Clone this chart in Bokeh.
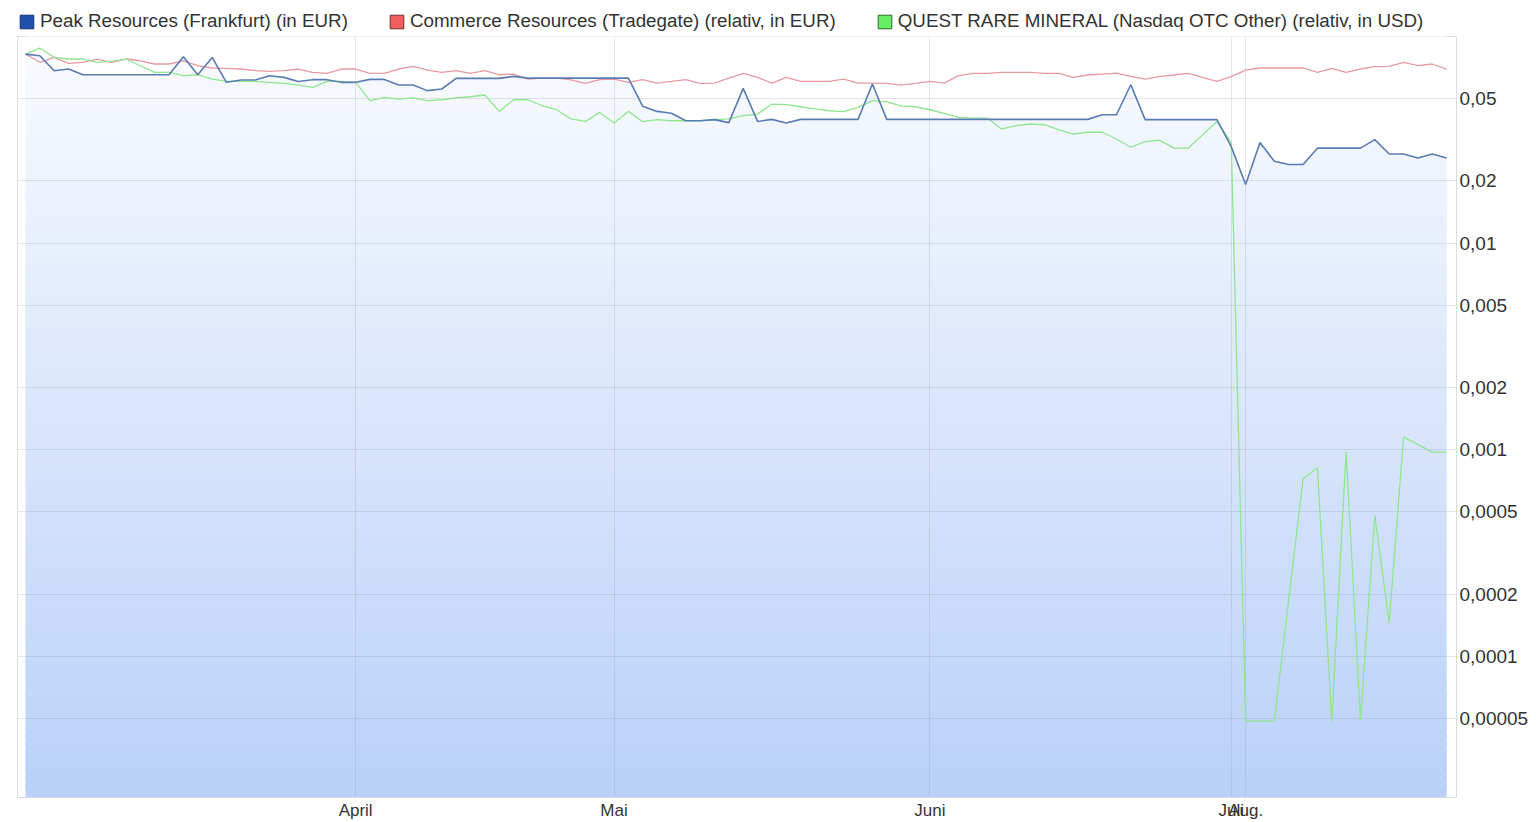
import numpy as np
from bokeh.plotting import figure
from bokeh.layouts import column
from bokeh.models import FixedTicker, Legend, LegendItem, Range1d, ColumnDataSource
from bokeh.embed import file_html
from bokeh.resources import INLINE

# ---------------- data ----------------
month_ticks = [23, 41, 63, 84, 85]
month_labels = ["April", "Mai", "Juni", "Juli", "Aug."]

y_ticks = [0.05, 0.02, 0.01, 0.005, 0.002, 0.001, 0.0005, 0.0002, 0.0001, 0.00005]
y_tick_labels = ["0,05", "0,02", "0,01", "0,005", "0,002", "0,001",
                 "0,0005", "0,0002", "0,0001", "0,00005"]

series_names = ["Peak Resources (Frankfurt) (in EUR)",
                "Commerce Resources (Tradegate) (relativ, in EUR)",
                "QUEST RARE MINERAL (Nasdaq OTC Other) (relativ, in USD)"]

peak = [0.0822, 0.0807, 0.0683, 0.0696, 0.0653, 0.0653, 0.0653, 0.0653, 0.0653, 0.0653,
        0.0653, 0.0798, 0.0653, 0.0792, 0.0600, 0.0616, 0.0616, 0.0646, 0.0634, 0.0606,
        0.0618, 0.0618, 0.0600, 0.0600, 0.0620, 0.0620, 0.0582, 0.0582, 0.0547, 0.0557,
        0.0627, 0.0627, 0.0627, 0.0627, 0.0641, 0.0629, 0.0629, 0.0629, 0.0629, 0.0629,
        0.0629, 0.0629, 0.0629, 0.0459, 0.0434, 0.0425, 0.0391, 0.0391, 0.0396, 0.0383,
        0.0561, 0.0388, 0.0397, 0.0381, 0.0397, 0.0397, 0.0397, 0.0397, 0.0397, 0.0589,
        0.0397, 0.0397, 0.0397, 0.0397, 0.0397, 0.0397, 0.0397, 0.0397, 0.0397, 0.0397,
        0.0397, 0.0397, 0.0397, 0.0397, 0.0397, 0.0418, 0.0418, 0.0584, 0.0396, 0.0396,
        0.0396, 0.0396, 0.0396, 0.0396, 0.0293, 0.0192, 0.0307, 0.0249, 0.0240, 0.0240,
        0.0288, 0.0288, 0.0288, 0.0288, 0.0317, 0.0270, 0.0270, 0.0258, 0.0270, 0.0258]

commerce = [0.0822, 0.0750, 0.0792, 0.0741, 0.0750, 0.0778, 0.0750, 0.0778, 0.0763, 0.0736,
            0.0736, 0.0763, 0.0722, 0.0704, 0.0701, 0.0696, 0.0683, 0.0678, 0.0683, 0.0696,
            0.0670, 0.0663, 0.0696, 0.0696, 0.0663, 0.0663, 0.0696, 0.0717, 0.0688, 0.0670,
            0.0683, 0.0663, 0.0683, 0.0653, 0.0658, 0.0622, 0.0629, 0.0629, 0.0616, 0.0593,
            0.0618, 0.0622, 0.0600, 0.0618, 0.0595, 0.0606, 0.0618, 0.0593, 0.0595, 0.0629,
            0.0663, 0.0634, 0.0595, 0.0634, 0.0606, 0.0606, 0.0606, 0.0622, 0.0595, 0.0595,
            0.0593, 0.0582, 0.0593, 0.0606, 0.0595, 0.0646, 0.0663, 0.0663, 0.0670, 0.0670,
            0.0670, 0.0663, 0.0663, 0.0634, 0.0651, 0.0658, 0.0665, 0.0641, 0.0622, 0.0639,
            0.0651, 0.0663, 0.0634, 0.0606, 0.0639, 0.0688, 0.0704, 0.0704, 0.0704, 0.0704,
            0.0670, 0.0701, 0.0670, 0.0696, 0.0714, 0.0717, 0.0750, 0.0722, 0.0736, 0.0696]

quest = [0.0822, 0.0879, 0.0792, 0.0778, 0.0778, 0.0750, 0.0758, 0.0778, 0.0722, 0.0670,
         0.0670, 0.0646, 0.0653, 0.0622, 0.0606, 0.0606, 0.0606, 0.0600, 0.0593, 0.0582,
         0.0567, 0.0606, 0.0606, 0.0600, 0.0489, 0.0507, 0.0498, 0.0504, 0.0489, 0.0494,
         0.0504, 0.0511, 0.0521, 0.0434, 0.0494, 0.0494, 0.0462, 0.0442, 0.0399, 0.0388,
         0.0429, 0.0381, 0.0434, 0.0387, 0.0396, 0.0391, 0.0391, 0.0391, 0.0396, 0.0399,
         0.0414, 0.0421, 0.0471, 0.0468, 0.0457, 0.0446, 0.0437, 0.0433, 0.0454, 0.0489,
         0.0483, 0.0462, 0.0457, 0.0442, 0.0425, 0.0406, 0.0403, 0.0403, 0.0357, 0.0370,
         0.0377, 0.0374, 0.0353, 0.0337, 0.0344, 0.0344, 0.0319, 0.0291, 0.0310, 0.0315,
         0.0288, 0.0288, 0.0334, 0.0387, 0.0307, 0.0000485, 0.0000485, 0.0000485, 0.000188, 0.000723,
         0.000817, 0.0000485, 0.000973, 0.000049, 0.00048, 0.000145, 0.00115, 0.00106, 0.000973, 0.000973]

idx = list(range(len(peak)))

# ---------------- main figure ----------------
Y_LO, Y_HI = 2.07e-5, 0.1
FONT = "Liberation Sans"
LEG_H = 36

p = figure(width=1536, height=822 - LEG_H, y_axis_type="log", y_axis_location="right",
           x_range=Range1d(-0.557, 99.69), y_range=Range1d(Y_LO, Y_HI),
           output_backend="svg", toolbar_location=None,
           min_border_left=17, min_border_right=80, min_border_top=0, min_border_bottom=25)
p.background_fill_color = "white"
p.border_fill_color = "white"
p.outline_line_color = "#dcdcdc"
p.outline_line_width = 1

# gradient fill under the Peak line: horizontal colour bands, then white above the line
N = 90
lo, hi = np.log10(Y_LO), np.log10(Y_HI)
edges = np.logspace(lo, hi, N + 1)
top_rgb = np.array([250, 251, 255])
bot_rgb = np.array([185, 209, 248])
band_colors = []
for k in range(N):
    t = (k + 0.5) / N
    c = bot_rgb + (top_rgb - bot_rgb) * t
    band_colors.append("#%02x%02x%02x" % tuple(int(round(v)) for v in c))
step = (hi - lo) / N
band_src = ColumnDataSource(dict(
    left=[idx[0]] * N, right=[idx[-1]] * N,
    bottom=list(edges[:-1]), top=list(10 ** (np.log10(edges[1:]) + step * 0.6)),
    color=band_colors))
p.quad(left="left", right="right", bottom="bottom", top="top", source=band_src,
       fill_color="color", line_color=None, level="image")

src = ColumnDataSource(dict(x=idx, peak=peak, commerce=commerce, quest=quest))
p.varea(x="x", y1="peak", y2=Y_HI, source=src, fill_color="white", level="image")

# lines
p.line("x", "commerce", source=src, line_color="#e79aa4", line_width=1.3)
p.line("x", "quest", source=src, line_color="#8ee68e", line_width=1.3)
p.line("x", "peak", source=src, line_color="#5a7cb3", line_width=1.6)

# axes
p.xaxis.ticker = FixedTicker(ticks=month_ticks)
p.xaxis.major_label_overrides = {t: l for t, l in zip(month_ticks, month_labels)}
p.yaxis.ticker = FixedTicker(ticks=y_ticks)
p.yaxis.major_label_overrides = {t: l for t, l in zip(y_ticks, y_tick_labels)}
for ax in (p.xaxis, p.yaxis):
    ax.axis_line_color = None
    ax.major_tick_line_color = None
    ax.minor_tick_line_color = None
    ax.major_tick_out = 0
    ax.major_tick_in = 0
    ax.minor_tick_out = 0
    ax.minor_tick_in = 0
    ax.major_label_text_font = FONT
    ax.major_label_text_color = "#333333"
p.xaxis.major_label_text_font_size = "17px"
p.xaxis.major_label_standoff = 3
p.yaxis.major_label_text_font_size = "19px"
p.yaxis.major_label_standoff = 3

# grid
p.xgrid.ticker = FixedTicker(ticks=month_ticks)
p.ygrid.ticker = FixedTicker(ticks=y_ticks)
for g in (p.xgrid, p.ygrid):
    g.grid_line_color = "#8a8aa0"
    g.grid_line_alpha = 0.22
    g.minor_grid_line_color = None

# ---------------- legend strip above the chart ----------------
lf = figure(width=1536, height=LEG_H, y_axis_type="log",
            x_range=p.x_range, y_range=p.y_range,
            output_backend="svg", toolbar_location=None,
            min_border_left=0, min_border_right=0, min_border_top=0, min_border_bottom=0)
lf.axis.visible = False
lf.grid.visible = False
lf.outline_line_color = None
lf.background_fill_color = "white"
lf.border_fill_color = "white"

sw_fill = ["#1f51aa", "#ef5f5f", "#66ee66"]
sw_line = ["#14336e", "#7a2c2c", "#2b6b2b"]
items = []
for name, ser, fc, lc in zip(series_names, (peak, commerce, quest), sw_fill, sw_line):
    # zero-size quad at the series' first point: only the legend swatch is visible
    s = ColumnDataSource(dict(l=[idx[0]], r=[idx[0]], b=[ser[0]], t=[ser[0]]))
    r = lf.quad(left="l", right="r", bottom="b", top="t", source=s,
                fill_color=fc, line_color=lc, line_width=1)
    items.append(LegendItem(label=name, renderers=[r]))

legend = Legend(items=items, orientation="horizontal", location=(0, 3),
                glyph_width=17, glyph_height=17, label_standoff=5, spacing=40,
                padding=1, margin=0, border_line_alpha=0, background_fill_alpha=0,
                label_text_font=FONT, label_text_font_size="18.8px",
                label_text_color="#333333")
lf.add_layout(legend, "center")

layout = column(lf, p, spacing=0)
open("out.html", "w").write(file_html(layout, INLINE))
